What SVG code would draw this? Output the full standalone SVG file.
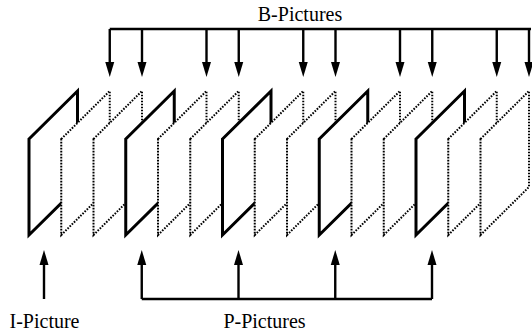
<svg xmlns="http://www.w3.org/2000/svg" width="532" height="334" viewBox="0 0 532 334">
<style>
.frame{fill:#fff;stroke:#000;stroke-linejoin:miter}
.ip{stroke-width:3}
.b{stroke-width:2;stroke-dasharray:1.6 1.4}
.con{fill:none;stroke:#000;stroke-width:2.4}
.lbl{font-family:"Liberation Serif","Times New Roman",serif;font-size:20px;fill:#000;text-anchor:middle}
</style>
<defs>
<marker id="ah" markerUnits="userSpaceOnUse" markerWidth="16" markerHeight="10" refX="0" refY="5" orient="auto">
<path d="M0,0.5 L15,5 L0,9.5 z" fill="#000"/>
</marker>
</defs>
<g id="frames">
<g id="f0"><polygon class="frame ip" points="29,139 77.5,91 77.5,187 29,235"/></g>
<g id="f1"><polygon class="frame b" points="61.25,139 109.75,91 109.75,187 61.25,235"/></g>
<g id="f2"><polygon class="frame b" points="93.5,139 142,91 142,187 93.5,235"/></g>
<g id="f3"><polygon class="frame ip" points="125.75,139 174.25,91 174.25,187 125.75,235"/></g>
<g id="f4"><polygon class="frame b" points="158,139 206.5,91 206.5,187 158,235"/></g>
<g id="f5"><polygon class="frame b" points="190.25,139 238.75,91 238.75,187 190.25,235"/></g>
<g id="f6"><polygon class="frame ip" points="222.5,139 271,91 271,187 222.5,235"/></g>
<g id="f7"><polygon class="frame b" points="254.75,139 303.25,91 303.25,187 254.75,235"/></g>
<g id="f8"><polygon class="frame b" points="287,139 335.5,91 335.5,187 287,235"/></g>
<g id="f9"><polygon class="frame ip" points="319.25,139 367.75,91 367.75,187 319.25,235"/></g>
<g id="f10"><polygon class="frame b" points="351.5,139 400,91 400,187 351.5,235"/></g>
<g id="f11"><polygon class="frame b" points="383.75,139 432.25,91 432.25,187 383.75,235"/></g>
<g id="f12"><polygon class="frame ip" points="416,139 464.5,91 464.5,187 416,235"/></g>
<g id="f13"><polygon class="frame b" points="448.25,139 496.75,91 496.75,187 448.25,235"/></g>
<g id="f14"><polygon class="frame b" points="480.5,139 529,91 529,187 480.5,235"/></g>
</g>
<g id="connectors">
<path class="con" d="M109.75,29 H531"/>
<path class="con" d="M109.75,29 V62" marker-end="url(#ah)"/>
<path class="con" d="M142,29 V62" marker-end="url(#ah)"/>
<path class="con" d="M206.5,29 V62" marker-end="url(#ah)"/>
<path class="con" d="M238.75,29 V62" marker-end="url(#ah)"/>
<path class="con" d="M303.25,29 V62" marker-end="url(#ah)"/>
<path class="con" d="M335.5,29 V62" marker-end="url(#ah)"/>
<path class="con" d="M400,29 V62" marker-end="url(#ah)"/>
<path class="con" d="M432.25,29 V62" marker-end="url(#ah)"/>
<path class="con" d="M496.75,29 V62" marker-end="url(#ah)"/>
<path class="con" d="M529,29 V62" marker-end="url(#ah)"/>
<path class="con" d="M44,299 V265" marker-end="url(#ah)"/>
<path class="con" d="M141.75,299 H432"/>
<path class="con" d="M141.75,299 V265" marker-end="url(#ah)"/>
<path class="con" d="M238.5,299 V265" marker-end="url(#ah)"/>
<path class="con" d="M335.25,299 V265" marker-end="url(#ah)"/>
<path class="con" d="M432,299 V265" marker-end="url(#ah)"/>
</g>
<g id="labels">
<text class="lbl" x="300" y="21">B-Pictures</text>
<text class="lbl" x="44.5" y="328">I-Picture</text>
<text class="lbl" x="264.5" y="328">P-Pictures</text>
</g>
</svg>
